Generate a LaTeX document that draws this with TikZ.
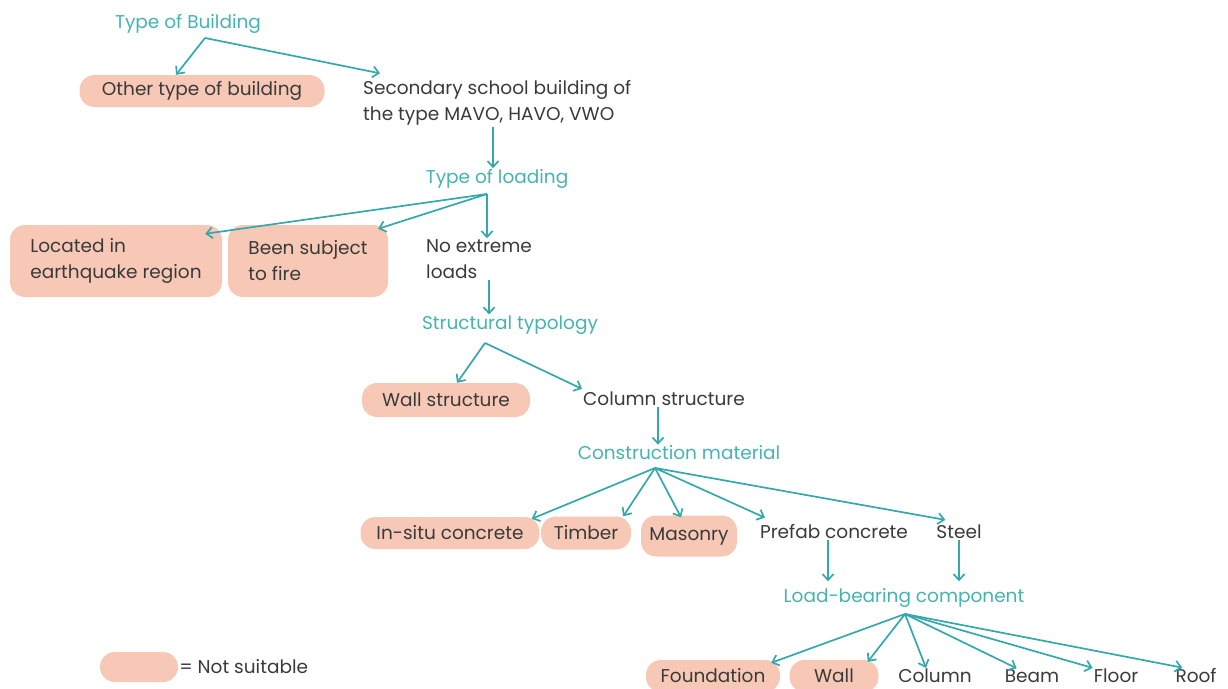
\documentclass[tikz,border=0pt]{standalone}
\usepackage{fontspec}
\setmainfont{Poppins}
\usetikzlibrary{arrows.meta}
\definecolor{tealink}{HTML}{34A8AA}
\definecolor{tealtext}{HTML}{45B3B0}
\definecolor{blobpink}{HTML}{F7C8B5}
\definecolor{darkink}{HTML}{3A3A3A}
\tikzset{
  head/.style={text=tealtext, font=\fontsize{18.5}{26}\selectfont, inner sep=1pt},
  item/.style={text=darkink, font=\fontsize{18.5}{26}\selectfont, align=left, inner sep=1pt},
  blob/.style={item, fill=blobpink, rounded corners=15pt, inner xsep=0pt, inner ysep=4pt},
  link/.style={draw=tealink, line width=1.7pt, -{Straight Barb[length=6pt,width=11pt]}},
}
\begin{document}
\begin{tikzpicture}[x=1pt,y=-1pt]
\useasboundingbox (0,0) rectangle (1228,688);
%levels
\node[head] (tob) at (188,24) {Type of Building};
\node[blob, minimum width=245pt, minimum height=32pt] (other) at (202,91) {Other type of building};
\node[item, anchor=west] (school) at (362,103) {Secondary school building of\\the type MAVO, HAVO, VWO};
\node[head] (tol) at (497,179) {Type of loading};
\node[blob, minimum width=212pt, minimum height=72pt] (quake) at (116,261) {Located in\\earthquake region};
\node[blob, minimum width=160pt, minimum height=72pt] (fire) at (308,261) {Been subject\\to fire};
\node[item, anchor=west] (noext) at (425,259) {No extreme\\loads};
\node[head] (typo) at (510,325) {Structural typology};
\node[blob, minimum width=168pt, minimum height=34pt] (wall) at (446,400) {Wall structure};
\node[item] (colst) at (664,399) {Column structure};
\node[head] (mat) at (679,453) {Construction material};
\node[blob, minimum width=179pt, minimum height=32pt] (insitu) at (450,533) {In-situ concrete};
\node[blob, minimum width=90pt, minimum height=33pt] (timber) at (586,533) {Timber};
\node[blob, minimum width=96pt, minimum height=41pt] (mason) at (689,536) {Masonry};
\node[item] (prefab) at (834,532) {Prefab concrete};
\node[item] (steel) at (959,532) {Steel};
\node[head] (lbc) at (904,598) {Load-bearing component};
\node[blob, minimum width=134pt, minimum height=32pt] (found) at (713,676) {Foundation};
\node[blob, minimum width=89pt, minimum height=32pt] (wallc) at (834,676) {Wall};
\node[item] (colm) at (935,676) {Column};
\node[item] (beam) at (1032,676) {Beam};
\node[item] (floor) at (1116,676) {Floor};
\node[item] (roof) at (1196,676) {Roof};
%legend
\node[blob, minimum width=78pt, minimum height=30pt] (key) at (139,667) {};
\node[item, anchor=west] (keytext) at (key.east) {= Not suitable};
%forks
\coordinate (tobfork) at (205,38);
\coordinate (tolfork) at (487,194);
\coordinate (typofork) at (485,343);
\coordinate (matfork) at (655,468);
\coordinate (lbcfork) at (905,614);
%links
\draw[link] (tobfork) -- ([xshift=-26pt]other.north);
\draw[link] (tobfork) -- ([xshift=18pt,yshift=6pt]school.north west);
\draw[link] ([xshift=-4pt]tol.north |- school.south) -- ([xshift=-4pt]tol.north);
\draw[link] (tolfork) -- ([xshift=-17pt,yshift=-9pt]quake.north east);
\draw[link] (tolfork) -- ([xshift=-10pt,yshift=-4pt]fire.north east);
\draw[link] (tolfork) -- (tolfork |- noext.north);
\draw[link] ([xshift=-21pt]typo.north |- noext.south) -- ([xshift=-21pt]typo.north);
\draw[link] (typofork) -- ([xshift=11pt]wall.north);
\draw[link] (typofork) -- ([yshift=2pt]colst.north west);
\draw[link] ([xshift=-21pt]mat.north |- colst.south) -- ([xshift=-21pt]mat.north);
\draw[link] (matfork) -- ([xshift=-8pt,yshift=-2pt]insitu.north east);
\draw[link] (matfork) -- ([xshift=-8pt]timber.north east);
\draw[link] (matfork) -- ([xshift=-8pt,yshift=-2pt]mason.north);
\draw[link] (matfork) -- ([xshift=6pt,yshift=6pt]prefab.north west);
\draw[link] (matfork) -- ([xshift=10pt,yshift=4pt]steel.north west);
\draw[link] ([xshift=-6pt]prefab.south) -- ([xshift=-76pt,yshift=6pt]lbc.north);
\draw[link] (steel.south) -- ([xshift=55pt,yshift=6pt]lbc.north);
\draw[link] (lbcfork) -- ([xshift=-9pt,yshift=-3pt]found.north east);
\draw[link] (lbcfork) -- ([xshift=-11pt,yshift=-2pt]wallc.north east);
\draw[link] (lbcfork) -- ([xshift=-9pt]colm.north);
\draw[link] (lbcfork) -- ([xshift=13pt]beam.north west);
\draw[link] (lbcfork) -- (floor.north west);
\draw[link] (lbcfork) -- ([xshift=8pt]roof.north west);
\end{tikzpicture}
\end{document}
